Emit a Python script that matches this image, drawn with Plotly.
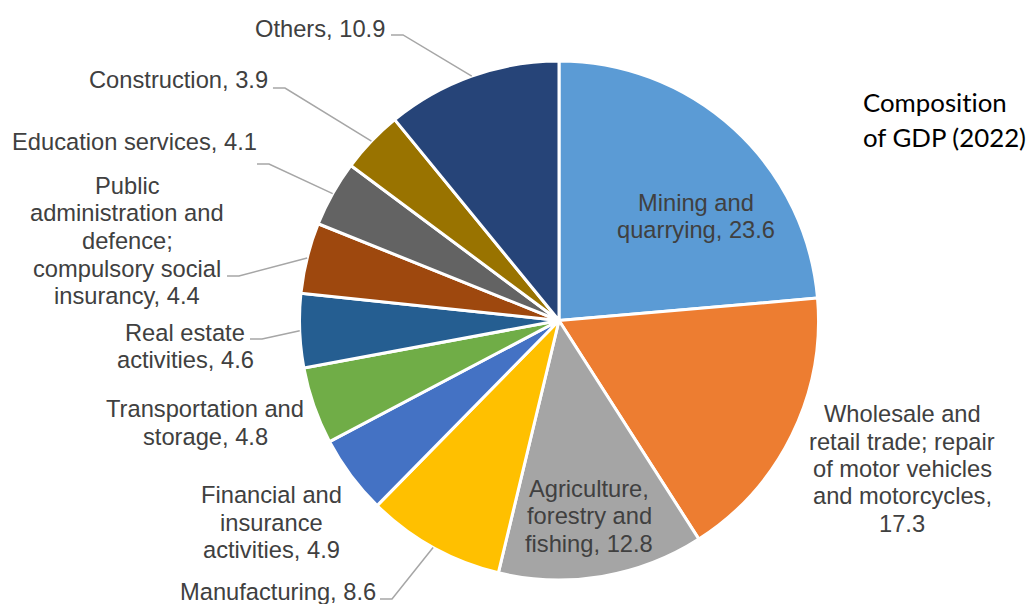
import math
import plotly.graph_objects as go

# GDP composition, 2022 (% of total)
sectors = [
    "Mining and quarrying",
    "Wholesale and retail trade; repair of motor vehicles and motorcycles",
    "Agriculture, forestry and fishing",
    "Manufacturing",
    "Financial and insurance activities",
    "Transportation and storage",
    "Real estate activities",
    "Public administration and defence; compulsory social insurancy",
    "Education services",
    "Construction",
    "Others",
]
shares = [23.6, 17.3, 12.8, 8.6, 4.9, 4.8, 4.6, 4.4, 4.1, 3.9, 10.9]

# line-wrapped label templates; {v} is replaced by the share
label_templates = [
    "Mining and\nquarrying, {v}",
    "Wholesale and\nretail trade; repair\nof motor vehicles\nand motorcycles,\n{v}",
    "Agriculture,\nforestry and\nfishing, {v}",
    "Manufacturing, {v}",
    "Financial and\ninsurance\nactivities, {v}",
    "Transportation and\nstorage, {v}",
    "Real estate\nactivities, {v}",
    "Public\nadministration and\ndefence;\ncompulsory social\ninsurancy, {v}",
    "Education services, {v}",
    "Construction, {v}",
    "Others, {v}",
]

slice_colors = ["#5B9BD5", "#ED7D31", "#A5A5A5", "#FFC000", "#4472C4", "#70AD47",
                "#255E91", "#9E480E", "#636363", "#997300", "#264478"]

# zero-width non-joiner keeps Lato from drawing the "ti" ligature
title_lines = ["Composit\u200cion", "of GDP (2022)"]

# ---- layout (pixels) ----
W, H = 1030, 604
CX, CY, R = 559.0, 320.5, 259.5
LINE_H = 27.5
LABEL_FONT = dict(family="Liberation Sans, Arial, sans-serif", size=23.7, color="#404040")
TITLE_FONT = dict(family="Lato, Calibri, sans-serif", size=25.8, color="#000000")

# label block centres (pixels)
label_pos = [
    (696, 216.5), (902, 469), (589, 516), (278, 592), (271, 522.5), (205, 423),
    (185, 346.5), (127, 241), (134.5, 142), (178, 80), (320, 29),
]
# leader lines: label-side start point and elbow length (None = no leader)
leader_start = [None, None, None, (380, 599), None, None,
                (250, 339), (227, 276), (257, 164), (273, 88), (391, 35)]
ELBOW = 12


def px_x(x):
    return x / W


def px_y(y):
    return 1 - y / H


fig = go.Figure(go.Pie(
    labels=sectors,
    values=shares,
    sort=False,
    direction="clockwise",
    rotation=0,
    marker=dict(colors=slice_colors, line=dict(color="white", width=3)),
    textinfo="none",
    hoverinfo="label+value",
    showlegend=False,
    domain=dict(x=[px_x(CX - R), px_x(CX + R)], y=[px_y(CY + R), px_y(CY - R)]),
))

annotations = []
shapes = []


def add_text_block(lines, cx, cy, font, line_h, anchor="center"):
    n = len(lines)
    for i, ln in enumerate(lines):
        y = cy + (i - (n - 1) / 2) * line_h
        annotations.append(dict(
            x=px_x(cx), y=px_y(y), xref="paper", yref="paper",
            text=ln, showarrow=False, xanchor=anchor, yanchor="middle",
            font=font,
        ))


total = sum(shares)
cum = 0.0
for i, v in enumerate(shares):
    mid = (cum + v / 2) / total * 2 * math.pi  # clockwise from 12 o'clock
    cum += v
    lines = label_templates[i].format(v=v).split("\n")
    add_text_block(lines, label_pos[i][0], label_pos[i][1], LABEL_FONT, LINE_H)
    if leader_start[i] is not None:
        sx, sy = leader_start[i]
        ex = CX + R * math.sin(mid)
        ey = CY - R * math.cos(mid)
        path = "M {:.4f},{:.4f} L {:.4f},{:.4f} L {:.4f},{:.4f}".format(
            px_x(sx), px_y(sy), px_x(sx + ELBOW), px_y(sy), px_x(ex), px_y(ey))
        shapes.append(dict(type="path", xref="paper", yref="paper", path=path,
                           line=dict(color="#A6A6A6", width=1.5), layer="above"))

add_text_block(title_lines, 861, 119, TITLE_FONT, 35, anchor="left")

fig.update_layout(
    width=W, height=H,
    margin=dict(l=0, r=0, t=0, b=0),
    paper_bgcolor="white",
    plot_bgcolor="white",
    annotations=annotations,
    shapes=shapes,
)

fig.write_html("out.html")
